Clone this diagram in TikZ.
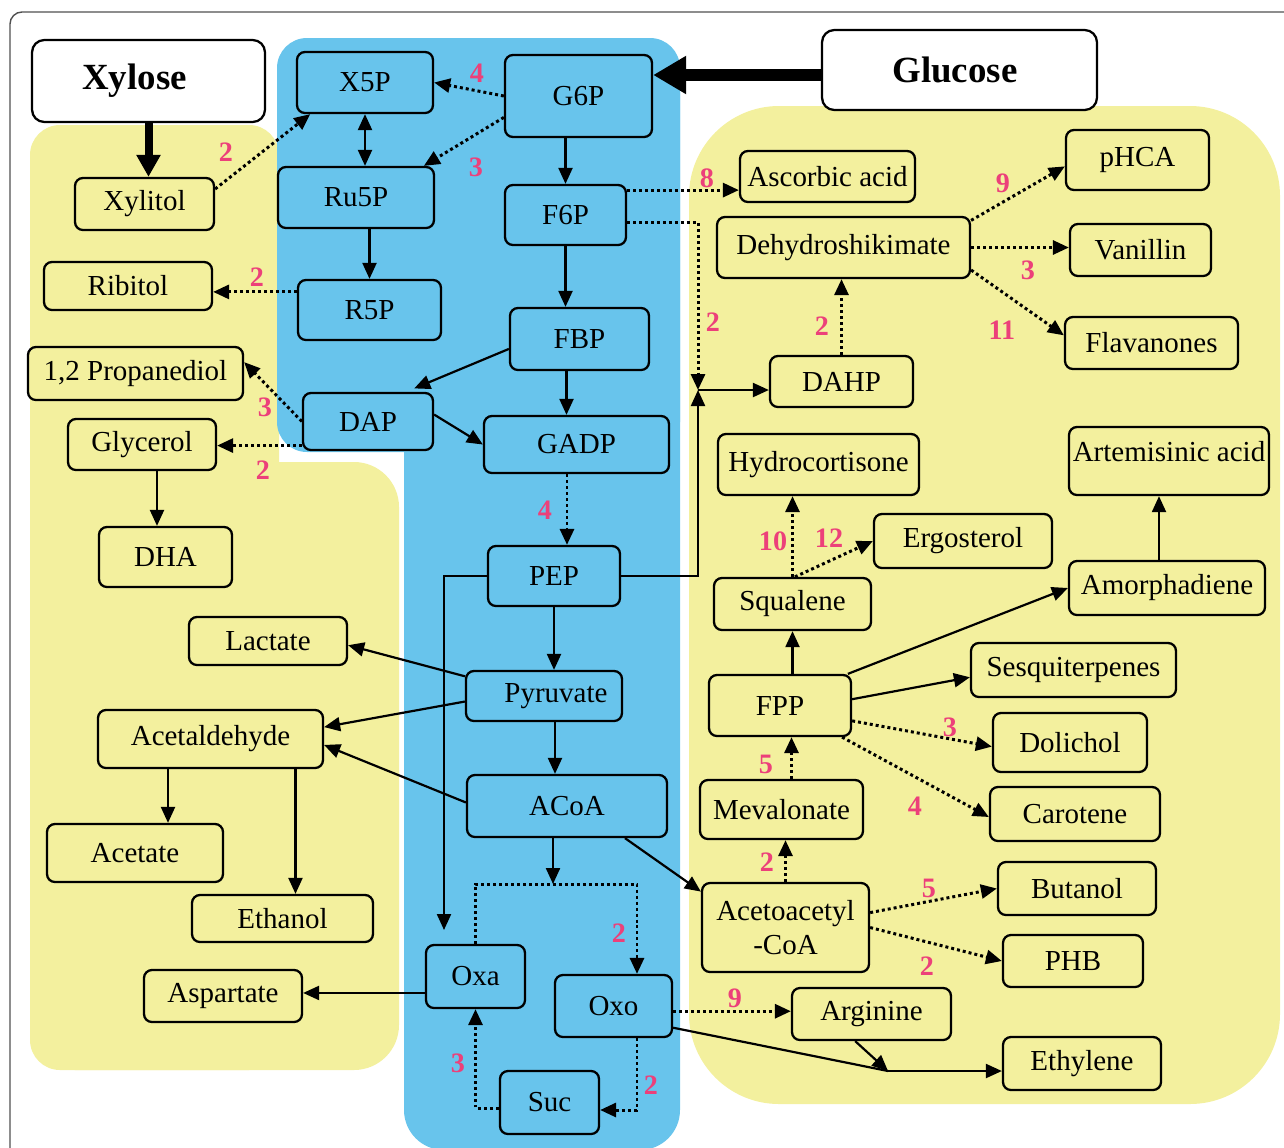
\documentclass[tikz,border=0pt]{standalone}
\usepackage{fontspec}
\setmainfont{Liberation Serif}
\usetikzlibrary{arrows.meta}
\definecolor{cblue}{RGB}{104,196,236}
\definecolor{cyel}{RGB}{243,240,158}
\definecolor{cpink}{RGB}{236,64,122}
\definecolor{cframe}{RGB}{80,80,80}
\newcommand{\nodefont}{\fontsize{16.5}{19.5}\selectfont}
\newcommand{\numfont}{\bfseries\fontsize{16}{16}\selectfont}
\newcommand{\bigfont}{\bfseries\fontsize{21}{21}\selectfont}
\begin{document}
\begin{tikzpicture}[x=0.02cm, y=-0.02cm,
		>={Triangle[length=0.32cm, width=0.28cm]},
		box/.style={draw, rounded corners=4.5pt, line width=1.3pt, inner sep=1pt, align=center, font=\nodefont},
		bbox/.style={box, fill=cblue},
		ybox/.style={box, fill=cyel},
		wbox/.style={box, fill=white, rounded corners=7pt, font=\bigfont},
		sz/.style 2 args={minimum width=#1cm, minimum height=#2cm},
		arr/.style={line width=1.25pt, ->},
		dotarr/.style={arr, line width=1.7pt, dash pattern=on 1.7pt off 1.7pt},
		num/.style={text=cpink, font=\numfont, inner sep=0pt}]
		\useasboundingbox (0,0) rectangle (1284,1147);
		\fill[cyel, rounded corners=0.6cm] (30,125) rectangle (279,1070);
		\fill[cyel, rounded corners=0.9cm] (30,462) rectangle (399,1070);
		\fill[cyel, rounded corners=1.8cm] (689,106) rectangle (1280,1104);
		\fill[cblue, rounded corners=0.6cm] (277,38) rectangle (680,452);
		\fill[cblue, rounded corners=0.8cm] (404,38) rectangle (680,1150);
		\draw[cframe, line width=0.8pt, rounded corners=0.24cm] (10,1200) -- (10,12) -- (1330,12);
		
		\node[wbox, sz={4.66}{1.64}] (Xylose) at (148.5,81) {Xylose\hspace{0.56cm}};
		\node[wbox, sz={5.5}{1.6}] (Glucose) at (959.5,70) {Glucose\hspace{0.18cm}};
		
		\node[bbox, sz={2.72}{1.22}] (X5P) at (365,82.5) {X5P};
		\node[bbox, sz={2.94}{1.64}] (G6P) at (578.5,96) {G6P};
		\node[bbox, sz={3.12}{1.22}] (Ru5P) at (356,197.5) {Ru5P};
		\node[bbox, sz={2.42}{1.2}] (F6P) at (565.5,215) {F6P};
		\node[bbox, sz={2.86}{1.2}] (R5P) at (369.5,310) {R5P};
		\node[bbox, sz={2.78}{1.24}] (FBP) at (579.5,339) {FBP};
		\node[bbox, sz={2.6}{1.14}] (DAP) at (368,421.5) {DAP};
		\node[bbox, sz={3.7}{1.14}] (GADP) at (576.5,444.5) {GADP};
		\node[bbox, sz={2.64}{1.2}] (PEP) at (554,576) {PEP};
		\node[bbox, sz={3.12}{1.0}] (Pyr) at (544,696) {\hspace{0.48cm}Pyruvate};
		\node[bbox, sz={4.0}{1.24}] (ACoA) at (567,806) {ACoA};
		\node[bbox, sz={1.98}{1.26}] (Oxa) at (475.5,976.5) {Oxa};
		\node[bbox, sz={2.34}{1.24}] (Oxo) at (613.5,1006) {Oxo};
		\node[bbox, sz={1.98}{1.26}] (Suc) at (549.5,1102.5) {Suc};
		
		\node[ybox, sz={2.78}{1.04}] (Xylitol) at (144.5,204) {Xylitol};
		\node[ybox, sz={3.36}{0.96}] (Ribitol) at (128,286) {Ribitol};
		\node[ybox, sz={4.3}{1.06}] (PD) at (135.5,373.5) {1,2 Propanediol};
		\node[ybox, sz={2.96}{1.02}] (Glycerol) at (142,444.5) {Glycerol};
		\node[ybox, sz={2.66}{1.2}] (DHA) at (165.5,557) {DHA};
		\node[ybox, sz={3.16}{0.96}] (Lactate) at (268,641) {Lactate};
		\node[ybox, sz={4.5}{1.16}] (Acald) at (210.5,739) {Acetaldehyde};
		\node[ybox, sz={3.52}{1.16}] (Acetate) at (135,853) {Acetate};
		\node[ybox, sz={3.62}{0.94}] (Ethanol) at (282.5,918.5) {Ethanol};
		\node[ybox, sz={3.16}{1.04}] (Asp) at (223,996) {Aspartate};
		
		\node[ybox, sz={3.5}{1.02}] (Asc) at (827.5,176.5) {Ascorbic acid};
		\node[ybox, sz={2.86}{1.2}] (pHCA) at (1137.5,160) {pHCA};
		\node[ybox, sz={5.06}{1.22}] (DHS) at (843.5,247.5) {Dehydroshikimate};
		\node[ybox, sz={2.82}{1.04}] (Van) at (1140.5,250) {Vanillin};
		\node[ybox, sz={3.46}{1.04}] (Flav) at (1151.5,343) {Flavanones};
		\node[ybox, sz={2.86}{1.02}] (DAHP) at (841.5,381.5) {DAHP};
		\node[ybox, sz={4.02}{1.22}] (HC) at (818.5,464.5) {Hydrocortisone};
		\node[ybox, sz={4.0}{1.36}] (Art) at (1169,461) {Artemisinic acid\\[-0.3cm]};
		\node[ybox, sz={3.56}{1.08}] (Erg) at (963,541) {Ergosterol};
		\node[ybox, sz={3.14}{1.04}] (Squ) at (792.5,604) {Squalene};
		\node[ybox, sz={3.92}{1.08}] (Amo) at (1167,588) {Amorphadiene};
		\node[ybox, sz={4.1}{1.08}] (Ses) at (1073.5,670) {Sesquiterpenes};
		\node[ybox, sz={2.84}{1.22}] (FPP) at (780,705.5) {FPP};
		\node[ybox, sz={3.08}{1.18}] (Dol) at (1070,742.5) {Dolichol};
		\node[ybox, sz={3.26}{1.18}] (Mev) at (781.5,809.5) {Mevalonate};
		\node[ybox, sz={3.4}{1.08}] (Car) at (1075,814) {Carotene};
		\node[ybox, sz={3.34}{1.78}] (AcAc) at (785.5,927.5) {Acetoacetyl\\-CoA};
		\node[ybox, sz={3.16}{1.06}] (But) at (1077,888.5) {Butanol};
		\node[ybox, sz={2.8}{1.04}] (PHB) at (1073,961) {PHB};
		\node[ybox, sz={3.18}{1.04}] (Arg) at (871.5,1014) {Arginine};
		\node[ybox, sz={3.16}{1.06}] (Eth) at (1082,1063.5) {Ethylene};
		
		\coordinate (jn) at (698,390);
		\coordinate (oxin) at (444,930);
		\coordinate (tca) at (553,884);
		\coordinate (ejn) at (888,1071);
		
		\draw[line width=0.16cm, -{Triangle[length=0.44cm, width=0.46cm]}] (Xylose.south) -- (Xylose.south |- Xylitol.north);
		\draw[line width=0.24cm, -{Triangle[length=0.66cm, width=0.72cm]}] ([yshift=-0.1cm]Glucose.west) -- ([yshift=-0.1cm]Glucose.west -| G6P.east);
		
		\draw[dotarr] (Xylitol.12) -- (X5P.210);
		\draw[dotarr] (G6P.west) -- (X5P.east);
		\draw[dotarr] (G6P.196) -- (Ru5P.25);
		\draw[arr, <->] (X5P.south) -- (X5P.south |- Ru5P.north);
		\draw[arr] (F6P.north |- G6P.south) -- (F6P.north);
		\draw[arr] (R5P.north |- Ru5P.south) -- (R5P.north);
		\draw[dotarr] (R5P.166) -- (R5P.166 -| Ribitol.east);
		\draw[arr] (F6P.south) -- (F6P.south |- FBP.north);
		\draw[arr, shorten >=0.18cm] (FBP.188) -- (DAP.38);
		\draw[arr] ([xshift=-0.26cm]FBP.south) -- ([xshift=-0.26cm]FBP.south |- GADP.north);
		\draw[dotarr] (DAP.west) -- (PD.6);
		\draw[dotarr] (DAP.200) -- (DAP.200 -| Glycerol.east);
		\draw[arr] (DAP.6) -- (GADP.west);
		\draw[dotarr] ([xshift=0.26cm]PEP.north |- GADP.south) -- ([xshift=0.26cm]PEP.north);
		\draw[arr] ([xshift=0.3cm]Glycerol.south) -- ([xshift=0.3cm]Glycerol.south |- DHA.north);
		
		\draw[dotarr] (F6P.22) -- (F6P.22 -| Asc.west);
		\draw[dotarr] (F6P.353) -| (jn);
		\draw[arr] (PEP.east) -| (jn);
		\draw[arr] (jn) -- (jn -| DAHP.west);
		\draw[dotarr] (DAHP.north) -- (DAHP.north |- DHS.south);
		\draw[dotarr] (DHS.12) -- (pHCA.185);
		\draw[dotarr] (DHS.east) -- (DHS.east -| Van.west);
		\draw[dotarr] (DHS.350) -- (Flav.175);
		
		\draw[arr] (PEP.west) -| (oxin);
		\draw[arr] (PEP.south) -- (PEP.south |- Pyr.north);
		\draw[arr] (Pyr.166) -- (Lactate.357);
		\draw[arr] (Pyr.184) -- (Acald.6);
		\draw[arr] ([xshift=0.22cm]Pyr.south) -- ([xshift=0.22cm]Pyr.south |- ACoA.north);
		\draw[arr] (ACoA.178) -- (Acald.357);
		\draw[arr] ([xshift=-0.85cm]Acald.south) -- ([xshift=-0.85cm]Acald.south |- Acetate.north);
		\draw[arr] ([xshift=1.7cm]Acald.south) -- ([xshift=1.7cm]Acald.south |- Ethanol.north);
		\draw[arr] (ACoA.south -| tca) -- (tca);
		\draw[dotarr] (Oxa.north) |- (tca) -| ([xshift=0.47cm]Oxo.north);
		\draw[arr] (ACoA.331) -- (AcAc.157);
		\draw[arr] (Oxa.198) -- (Oxa.198 -| Asp.east);
		\draw[dotarr] ([xshift=0.47cm]Oxo.south) |- ([yshift=-0.15cm]Suc.east);
		\draw[dotarr] ([yshift=-0.11cm]Suc.west) -| (Oxa.south);
		\draw[dotarr] (Oxo.355) -- (Oxo.355 -| Arg.west);
		\draw[line width=1.25pt] (Oxo.340) -- (ejn);
		\draw[arr] (Arg.239) -- (ejn);
		\draw[arr] (ejn) -- (ejn -| Eth.west);
		
		\draw[dotarr] (AcAc.north) -- (AcAc.north |- Mev.south);
		\draw[dotarr] ([xshift=0.2cm]Mev.north) -- ([xshift=0.2cm]Mev.north |- FPP.south);
		\draw[arr] (Squ.south |- FPP.north) -- (Squ.south);
		\draw[dotarr] (Squ.north) -- (Squ.north |- HC.south);
		\draw[dotarr] (Squ.85) -- (Erg.west);
		\draw[arr] (FPP.25) -- (Amo.west);
		\draw[arr] ([xshift=-0.16cm]Amo.north) -- ([xshift=-0.16cm]Amo.north |- Art.south);
		\draw[arr] (FPP.5) -- (Ses.184);
		\draw[dotarr] (FPP.348) -- (Dol.183);
		\draw[dotarr] (FPP.333) -- (Car.182);
		\draw[dotarr] (AcAc.10) -- (But.west);
		\draw[dotarr] (AcAc.east) -- (PHB.west);
		
		\node[num] (k1) at (226,152) {2};
		\node[num] (k2) at (477,73) {4};
		\node[num] (k3) at (476,167) {3};
		\node[num] (k4) at (257,277) {2};
		\node[num] (k5) at (265,407) {3};
		\node[num] (k6) at (263,470) {2};
		\node[num] (k7) at (545,510) {4};
		\node[num] (k8) at (707,178) {8};
		\node[num] (k9) at (713,322) {2};
		\node[num] (k10) at (822,326) {2};
		\node[num] (k11) at (1003,183) {9};
		\node[num] (k12) at (1028,270) {3};
		\node[num] (k13) at (1002,330) {11};
		\node[num] (k14) at (773,541) {10};
		\node[num] (k15) at (829,538) {12};
		\node[num] (k16) at (766,764) {5};
		\node[num] (k17) at (950,727) {3};
		\node[num] (k18) at (915,806) {4};
		\node[num] (k19) at (767,862) {2};
		\node[num] (k20) at (929,888) {5};
		\node[num] (k21) at (927,966) {2};
		\node[num] (k22) at (735,998) {9};
		\node[num] (k23) at (619,933) {2};
		\node[num] (k24) at (651,1085) {2};
		\node[num] (k25) at (458,1063) {3};
	\end{tikzpicture}
\end{document}
